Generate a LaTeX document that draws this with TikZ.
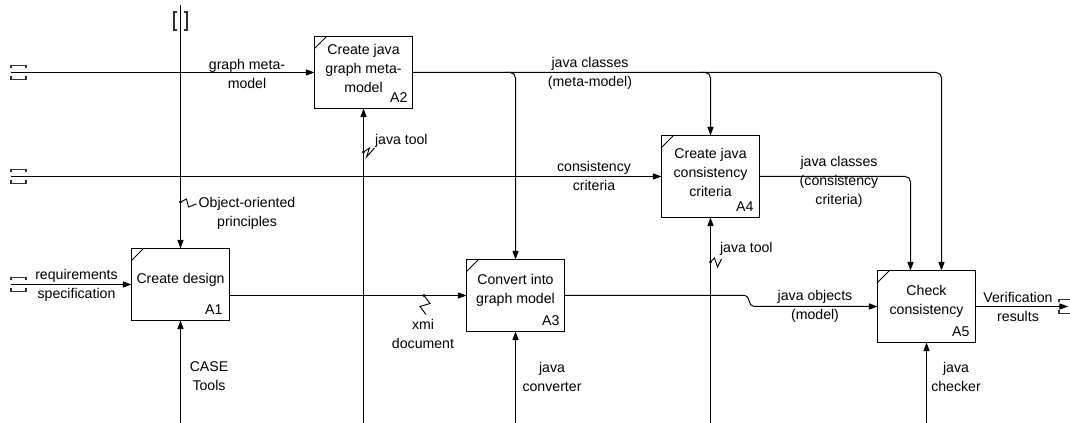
\documentclass[tikz,border=0pt]{standalone}
\usepackage{fontspec}
\setmainfont{Liberation Sans}
\usetikzlibrary{arrows.meta,calc}
\begin{document}
\begin{tikzpicture}[x=0.75pt,y=-0.75pt,
  font=\fontsize{10.6}{14.25}\selectfont,
  every node/.style={inner sep=0pt, outer sep=0pt},
  func/.style={draw, line width=0.75pt, minimum width=73.5pt, minimum height=54pt,
    path picture={\draw[line width=0.6pt]
      ($(path picture bounding box.north west)+(0,12)$) --
      ($(path picture bounding box.north west)+(12,0)$);}},
  boxtext/.style={align=center},
  num/.style={anchor=base east},
  lbl/.style={align=center},
  flow/.style={draw, line width=0.75pt, -{Triangle[length=6.5pt,width=4.6pt]}},
  plain/.style={draw, line width=0.7pt},
  tunnel/.style={draw, line width=0.9pt, black!80}
]
\useasboundingbox (0,0) rectangle (1070,423);

% activity boxes
\node[func] (A2) at (363.5,72.5) {};
\node[func, minimum height=61.5pt] (A4) at (710.5,176.5) {};
\node[func] (A1) at (180.5,284.5) {};
\node[func] (A3) at (515.5,295.5) {};
\node[func] (A5) at (926.5,306.5) {};

\node[boxtext] (A2t) at ($(A2.center)+(0,-4)$) {Create java\\graph meta-\\model};
\node[boxtext] (A4t) at ($(A4.center)+(0,-4)$) {Create java\\consistency\\criteria};
\node[boxtext] (A1t) at ($(A1.center)+(0,-5)$) {Create design};
\node[boxtext] (A3t) at ($(A3.center)+(0,-5)$) {Convert into\\graph model};
\node[boxtext] (A5t) at ($(A5.center)+(0,-5)$) {Check\\consistency};

\node[num] (A2n) at ($(A2.south east)+(-5,-5.5)$) {A2};
\node[num] (A4n) at ($(A4.south east)+(-6,-5.5)$) {A4};
\node[num] (A1n) at ($(A1.south east)+(-7,-5.5)$) {A1};
\node[num] (A3n) at ($(A3.south east)+(-5,-5.5)$) {A3};
\node[num] (A5n) at ($(A5.south east)+(-6,-5.5)$) {A5};

% free ends of the connectors
\coordinate (bot) at (0,423);
\coordinate (top1) at (180.5,5);
\coordinate (in2) at (11,72.5);
\coordinate (in4) at (11,176.5);
\coordinate (in1) at (11,284.5);
\coordinate (out5) at (1068,306.5);
\coordinate (A5a) at ($(A5.north)+(-16,0)$);
\coordinate (A5b) at ($(A5.north)+(15,0)$);

% tunnel brackets
\draw[tunnel] (177,12) -- (174,12) -- (174,30) -- (177,30);
\draw[tunnel] (184,12) -- (187,12) -- (187,30) -- (184,30);
\foreach \yy in {72.5,176.5,284.5} {
  \draw[tunnel] (11,{\yy-4}) -- (11,{\yy-7}) -- (26,{\yy-7}) -- (26,{\yy-4});
  \draw[tunnel] (11,{\yy+4}) -- (11,{\yy+7}) -- (26,{\yy+7}) -- (26,{\yy+4});
}
\draw[tunnel] (1059,302.5) -- (1059,299.5) -- (1070,299.5);
\draw[tunnel] (1059,310.5) -- (1059,313.5) -- (1070,313.5);

% controls and inputs from outside
\draw[flow] (top1) -- (A1.north);
\draw[flow] (in2) -- (A2.west);
\draw[flow] (in4) -- (A4.west);
\draw[flow] (in1) -- (A1.west);

% java classes (meta-model) and its branches
\draw[flow, rounded corners=4pt] (A2.east) -| (A5b);
\draw[flow, rounded corners=4pt] ($(A3.north |- A2.east)+(-10,0)$) -| (A3.north);
\draw[flow, rounded corners=4pt] ($(A4.north |- A2.east)+(-10,0)$) -| (A4.north);
\draw[line width=1.4pt] (A2.east) -- ($(A4.north |- A2.east)+(-6,0)$);

% java classes (consistency criteria)
\draw[flow, rounded corners=4pt] (A4.east) -| (A5a);

% xmi document
\draw[flow] (A1.east |- A3.west) -- (A3.west);

% java objects (model)
\draw[flow] (A3.east) -- (745,295.5) .. controls (750,295.5) and (748,306.5) .. (754,306.5) -- (A5.west);

% verification results
\draw[flow] (A5.east) -- (out5);

% mechanisms from below
\draw[flow] (A1.south |- bot) -- (A1.south);
\draw[flow] (A2.south |- bot) -- (A2.south);
\draw[flow] (A3.south |- bot) -- (A3.south);
\draw[flow] (A4.south |- bot) -- (A4.south);
\draw[flow] (A5.south |- bot) -- (A5.south);

% squiggles linking labels to arrows
\coordinate (s1) at (180.5,202);
\coordinate (s2) at (363.5,152);
\coordinate (s3) at (710.5,262);
\coordinate (s4) at (424,295.5);
\fill (s1) circle (1.3pt);
\fill (s2) circle (1.3pt);
\fill (s3) circle (1.3pt);
\fill (s4) circle (1.3pt);
\draw[plain] (s1) -- ++(6,-3) -- ++(2,8) -- ++(8,-3);
\draw[plain] (s2) -- ++(6,-4) -- ++(-3,9) -- ++(8,-9);
\draw[plain] (s3) -- ++(4,-4) -- ++(3,9) -- ++(4,-8);
\draw[plain] (s4) -- ++(6,8) -- ++(-10,3) -- ++(6,8);

% arrow labels
\node[lbl] (l1) at (247,73.5) {graph meta-\\model};
\node[lbl] (l2) at (590,73.5) {java classes\\(meta-model)};
\node[lbl] (l3) at (594,176) {consistency\\criteria};
\node[lbl] (l4) at (839,182) {java classes\\(consistency\\criteria)};
\node[lbl, anchor=west] (l5) at (375,141) {java tool};
\node[lbl, anchor=west] (l6) at (720,249) {java tool};
\node[lbl] (l7) at (247,213.5) {Object-oriented\\principles};
\node[lbl] (l8) at (76.5,285) {requirements\\specification};
\node[lbl] (l9) at (423,333.5) {xmi\\document};
\node[lbl] (l10) at (209,376.5) {CASE\\Tools};
\node[lbl] (l11) at (552,377) {java\\converter};
\node[lbl] (l12) at (815,306.5) {java objects\\(model)};
\node[lbl] (l13) at (1018,306.5) {Verification\\results};
\node[lbl] (l14) at (956,376.5) {java\\checker};
\end{tikzpicture}
\end{document}
